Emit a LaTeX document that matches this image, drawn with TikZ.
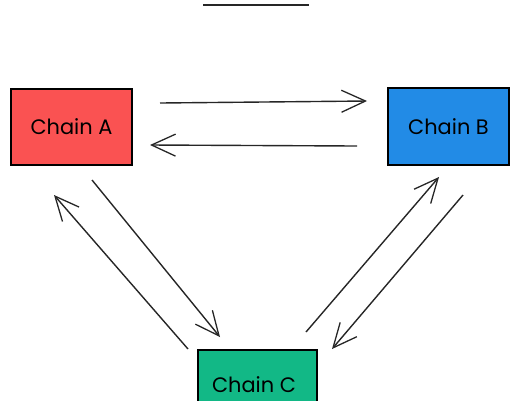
\documentclass[tikz,border=0pt]{standalone}
\usepackage{fontspec}
\setmainfont{Poppins}
\usetikzlibrary{arrows.meta}
\definecolor{cred}{HTML}{FA5252}
\definecolor{cblue}{HTML}{228BE6}
\definecolor{cgreen}{HTML}{12B886}
\tikzset{
  chainfont/.style={font=\fontsize{21}{24}\selectfont},
  chainbox/.style={draw=black, line width=1.5pt, minimum width=121bp, inner sep=0pt, chainfont},
  link/.style={line width=1.4pt, draw=black!85, -{Straight Barb[length=24bp,width=22bp,line width=1.3pt]}},
}
\begin{document}
\begin{tikzpicture}[x=1bp,y=-1bp]
\useasboundingbox (0,0) rectangle (520,400);
\clip (0,0) rectangle (520,400);
\node[chainbox, fill=cred, minimum height=76bp] (A) at (71.5,127) {Chain A};
\node[chainbox, fill=cblue, minimum height=77bp] (B) at (448.5,126.5) {Chain B};
\node[chainbox, fill=cgreen, minimum width=119bp, minimum height=80bp, anchor=north] (C) at (257.5,349) {};
\node[chainfont] (Ct) at (254,385) {Chain C};
\coordinate (t1) at (203,5);
\coordinate (t2) at (309,5);
\draw[line width=1.5pt, black!85] (t1) -- (t2);
\coordinate (ab1) at (160,103);
\coordinate (ab2) at (367,101);
\coordinate (ba1) at (357,146);
\coordinate (ba2) at (150,145);
\coordinate (ac1) at (92,180);
\coordinate (ac2) at (220,337);
\coordinate (ca1) at (188,349);
\coordinate (ca2) at (54,195);
\coordinate (cb1) at (306,332);
\coordinate (cb2) at (439,177);
\coordinate (bc1) at (463,195);
\coordinate (bc2) at (332,349);
\draw[link] (ab1) -- (ab2);
\draw[link] (ba1) -- (ba2);
\draw[link] (ac1) -- (ac2);
\draw[link] (ca1) -- (ca2);
\draw[link] (cb1) -- (cb2);
\draw[link] (bc1) -- (bc2);
\end{tikzpicture}
\end{document}
